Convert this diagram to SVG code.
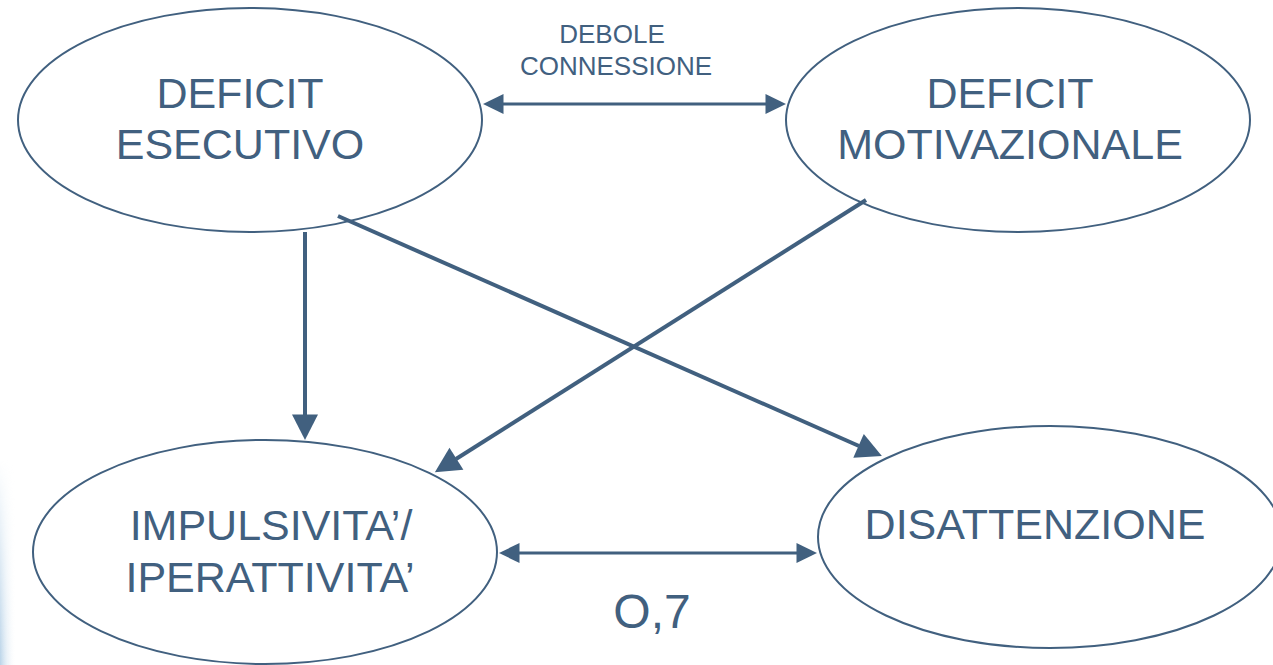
<svg xmlns="http://www.w3.org/2000/svg" width="1273" height="665" viewBox="0 0 1273 665">
<style>
.node ellipse{fill:none;stroke:#41607F;stroke-width:2}
.lbl{font-family:"Liberation Sans",Arial,sans-serif;fill:#41607F;text-anchor:middle}
.big{font-size:43px}
.small{font-size:26px}
.edge{stroke:#41607F;fill:none}
.thin{stroke-width:3}
.thick{stroke-width:4}
</style>
<defs>
<marker id="ah" markerUnits="userSpaceOnUse" markerWidth="27" markerHeight="28" viewBox="-1 -14 27 28" refX="0" refY="0" orient="auto-start-reverse"><path d="M-0.5,-13 L25,0 L-0.5,13 z" fill="#41607F"/></marker>
<marker id="as" markerUnits="userSpaceOnUse" markerWidth="22" markerHeight="22" viewBox="-1 -11 22 22" refX="0" refY="0" orient="auto-start-reverse"><path d="M-0.5,-10 L20,0 L-0.5,10 z" fill="#41607F"/></marker>
<linearGradient id="gx" x1="0" y1="0" x2="1" y2="0"><stop offset="0" stop-color="#b9d3e8"/><stop offset="1" stop-color="#ffffff" stop-opacity="0"/></linearGradient>
<linearGradient id="gy" x1="0" y1="0" x2="0" y2="1"><stop offset="0" stop-color="#fff" stop-opacity="0"/><stop offset="1" stop-color="#fff" stop-opacity="1"/></linearGradient>
<mask id="m"><rect x="0" y="460" width="20" height="205" fill="url(#gy)"/></mask>
</defs>
<rect width="1273" height="665" fill="#ffffff"/>
<rect x="0" y="460" width="16" height="205" fill="url(#gx)" mask="url(#m)"/>
<g id="edges">
<line class="edge thin" x1="503" y1="104" x2="766" y2="104" marker-start="url(#as)" marker-end="url(#as)"/>
<line class="edge thin" x1="519" y1="553" x2="797" y2="553" marker-start="url(#as)" marker-end="url(#as)"/>
<line class="edge thick" x1="305" y1="232" x2="305" y2="415" marker-end="url(#ah)"/>
<line class="edge thick" x1="338" y1="216" x2="859" y2="446" marker-end="url(#ah)"/>
<line class="edge thick" x1="866" y1="200" x2="456" y2="459" marker-end="url(#ah)"/>
<text class="lbl small" x="612" y="43">DEBOLE</text>
<text class="lbl small" x="616" y="75">CONNESSIONE</text>
<text class="lbl" x="652" y="628" font-size="48">O,7</text>
</g>
<g id="n1" class="node">
<ellipse cx="250" cy="120" rx="232" ry="112"/>
<text class="lbl big" x="240" y="108">DEFICIT</text>
<text class="lbl big" x="240" y="159">ESECUTIVO</text>
</g>
<g id="n2" class="node">
<ellipse cx="1018" cy="120" rx="232" ry="112"/>
<text class="lbl big" x="1010" y="108">DEFICIT</text>
<text class="lbl big" x="1010" y="159">MOTIVAZIONALE</text>
</g>
<g id="n3" class="node">
<ellipse cx="265" cy="552" rx="232" ry="112"/>
<text class="lbl big" x="271" y="540">IMPULSIVITA’/</text>
<text class="lbl big" x="270" y="592">IPERATTIVITA’</text>
</g>
<g id="n4" class="node">
<ellipse cx="1050" cy="537" rx="232" ry="111"/>
<text class="lbl big" x="1035" y="539">DISATTENZIONE</text>
</g>
</svg>
